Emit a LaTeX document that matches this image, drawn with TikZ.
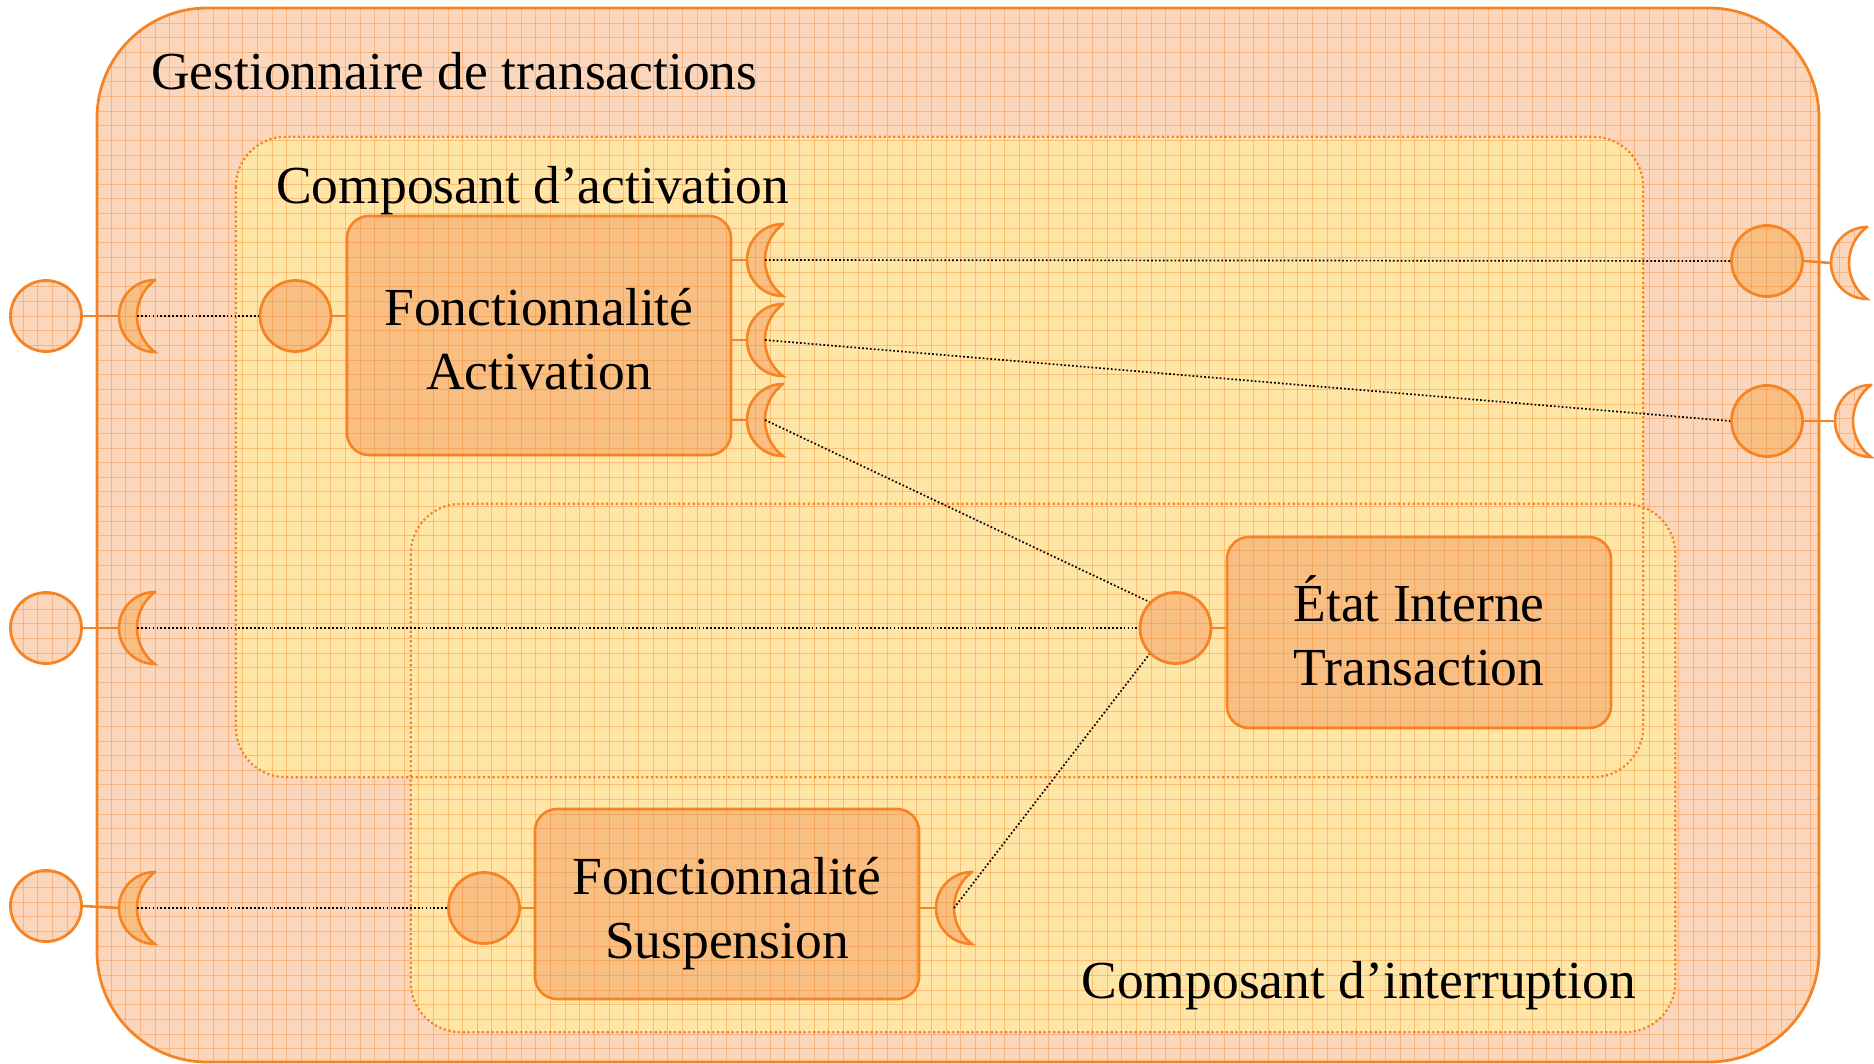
\documentclass[tikz,border=0pt]{standalone}
\usepackage{fontspec}
\setmainfont{Liberation Serif}
\definecolor{outerfill}{RGB}{252,214,186}
\definecolor{yel}{RGB}{255,229,166}
\definecolor{boxfill}{RGB}{249,190,130}
\definecolor{orng}{RGB}{247,132,36}
\definecolor{gridc}{RGB}{240,128,40}
\tikzset{
  lbl/.style={font=\fontsize{53.5}{64}\selectfont, inner sep=0pt, align=center},
  outerbox/.style={draw=orng, fill=outerfill, line width=2.8pt, rounded corners=110pt, inner sep=0pt},
  zonefill/.style={fill=yel, rounded corners=50pt, inner sep=0pt},
  zoneborder/.style={draw=orng, line width=2.2pt, dash pattern=on 2.2pt off 2.6pt, rounded corners=50pt},
  funcbox/.style={draw=orng, fill=boxfill, line width=2.6pt, rounded corners=22pt, inner sep=0pt, minimum width=384pt},
  portc/.style={circle, draw=orng, line width=2.8pt, minimum size=71pt, inner sep=0pt},
  stub/.style={draw=orng, line width=2.6pt},
  conn/.style={draw=black, line width=1.7pt, dash pattern=on 1.7pt off 2.2pt},
  gridl/.style={draw=gridc, draw opacity=0.37, line width=1pt},
}
\newcommand\crescent[4]{%
  \coordinate (#1-in) at (#2-18,#3);
  \coordinate (#1-out) at (#2-36,#3);
  \filldraw[fill=#4, draw=orng, line width=2.6pt, line join=miter]
    (#2,#3-36) arc[start angle=270,end angle=90,radius=36]
    arc[start angle=126.87,end angle=233.13,radius=45] -- cycle;}
\newcommand\gridrange[4]{%
  \foreach \gx in {#1,...,#2} \draw[gridl] ({8.5+\gx*14.65},0) -- ({8.5+\gx*14.65},1063);
  \foreach \gy in {#3,...,#4} \draw[gridl] (0,{8.5+\gy*14.65}) -- (1874,{8.5+\gy*14.65});}
\begin{document}
\begin{tikzpicture}[x=1pt,y=-1pt]
\useasboundingbox (0,0) rectangle (1874,1063);
% outer component
\node[outerbox, minimum width=1722pt, minimum height=1054pt] (outer) at (958,535) {};
% zones
\node[zonefill, minimum width=1407pt, minimum height=640pt] (zA) at (939.5,457) {};
\node[zonefill, minimum width=1264pt, minimum height=528pt] (zI) at (1043,768) {};
\draw[zoneborder] (zA.north west) rectangle (zA.south east);
\draw[zoneborder] (zI.north west) rectangle (zI.south east);
% functional boxes
\node[funcbox, minimum height=239pt] (fA) at (539,335.5) {};
\node[funcbox, minimum height=191pt] (fE) at (1419,632.5) {};
\node[funcbox, minimum height=190pt] (fS) at (727,904) {};
% ports
\node[portc, fill=outerfill] (cL1) at (46,316) {};
\node[portc, fill=outerfill] (cL2) at (46,628) {};
\node[portc, fill=outerfill] (cL3) at (46,906) {};
\node[portc, fill=boxfill] (cA) at (295.5,316) {};
\node[portc, fill=boxfill] (cE) at (1175.5,628) {};
\node[portc, fill=boxfill] (cS) at (484,908) {};
\node[portc, fill=boxfill] (cR1) at (1767,261) {};
\node[portc, fill=boxfill] (cR2) at (1767,421) {};
\crescent{kL1}{155}{316}{boxfill}
\crescent{kL2}{155}{628}{boxfill}
\crescent{kL3}{155}{908}{boxfill}
\crescent{kA1}{783}{260}{boxfill}
\crescent{kA2}{783}{340}{boxfill}
\crescent{kA3}{783}{420}{boxfill}
\crescent{kS}{972}{908}{boxfill}
\crescent{kR1}{1867}{263}{outerfill}
\crescent{kR2}{1871}{421}{outerfill}
% stubs
\draw[stub] (cL1.east) -- (kL1-out);
\draw[stub] (cL2.east) -- (kL2-out);
\draw[stub] (cL3.east) -- (kL3-out);
\draw[stub] (cA.east) -- (cA.east -| fA.west);
\draw[stub] (cE.east) -- (cE.east -| fE.west);
\draw[stub] (cS.east) -- (cS.east -| fS.west);
\draw[stub] (kA1-out -| fA.east) -- (kA1-out);
\draw[stub] (kA2-out -| fA.east) -- (kA2-out);
\draw[stub] (kA3-out -| fA.east) -- (kA3-out);
\draw[stub] (kS-out -| fS.east) -- (kS-out);
\draw[stub] (cR1.east) -- (kR1-out);
\draw[stub] (cR2.east) -- (kR2-out);
% grid overlay
\begin{scope}
  \clip[rounded corners=110pt] (97,8) rectangle (1819,1062);
  \gridrange{5}{123}{0}{72}
\end{scope}
\begin{scope}
  \clip (cL1.center) circle[radius=37] (cL2.center) circle[radius=37] (cL3.center) circle[radius=37];
  \gridrange{0}{5}{19}{64}
\end{scope}
\begin{scope}
  \clip (1867,227) arc[start angle=270,end angle=90,radius=36] arc[start angle=126.87,end angle=233.13,radius=45] -- cycle
        (1871,385) arc[start angle=270,end angle=90,radius=36] arc[start angle=126.87,end angle=233.13,radius=45] -- cycle;
  \gridrange{124}{127}{14}{31}
\end{scope}
% connectors
\draw[conn] (kL1-in) -- (cA.west);
\draw[conn] (kL2-in) -- (cE.west);
\draw[conn] (kL3-in) -- (cS.west);
\draw[conn] (kA1-in) -- (cR1.west);
\draw[conn] (kA2-in) -- (cR2.west);
\draw[conn] (kA3-in) -- (cE.north west);
\draw[conn] (kS-in) -- (cE.south west);
% texts
\node[lbl, anchor=base west] (tG) at (151,89) {Gestionnaire de transactions};
\node[lbl, anchor=base west] (tZA) at (276,203) {Composant d’activation};
\node[lbl, anchor=base east] (tZI) at (1636,998) {Composant d’interruption};
\node[lbl] (tA) at ([yshift=-4pt]fA.center) {Fonctionnalité\\Activation};
\node[lbl] (tE) at ([yshift=2pt]fE.center) {État Interne\\Transaction};
\node[lbl] (tS) at ([yshift=-10pt]fS.center) {Fonctionnalité\\Suspension};
\end{tikzpicture}
\end{document}
